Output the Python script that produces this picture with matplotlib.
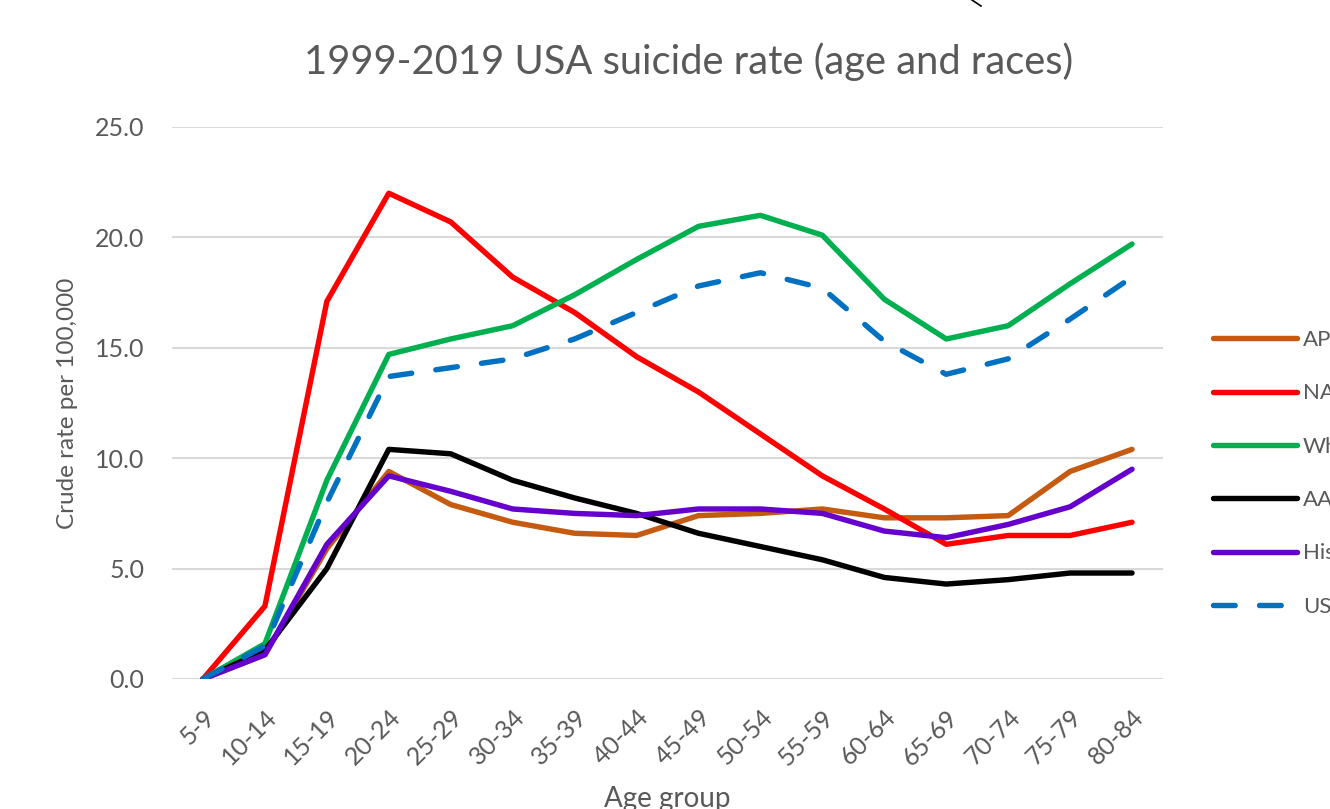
import matplotlib
matplotlib.use("Agg")
import matplotlib.pyplot as plt
from matplotlib.lines import Line2D

age_groups = ["5-9", "10-14", "15-19", "20-24", "25-29", "30-34", "35-39", "40-44",
              "45-49", "50-54", "55-59", "60-64", "65-69", "70-74", "75-79", "80-84"]
series_names = ["API", "NA", "White", "AA", "Hispanic", "USA"]
api = [0.0, 1.1, 5.9, 9.4, 7.9, 7.1, 6.6, 6.5, 7.4, 7.5, 7.7, 7.3, 7.3, 7.4, 9.4, 10.4]
na = [0.0, 3.3, 17.1, 22.0, 20.7, 18.2, 16.6, 14.6, 13.0, 11.1, 9.2, 7.7, 6.1, 6.5, 6.5, 7.1]
white = [0.0, 1.6, 9.0, 14.7, 15.4, 16.0, 17.4, 19.0, 20.5, 21.0, 20.1, 17.2, 15.4, 16.0, 17.9, 19.7]
aa = [0.0, 1.3, 5.0, 10.4, 10.2, 9.0, 8.2, 7.5, 6.6, 6.0, 5.4, 4.6, 4.3, 4.5, 4.8, 4.8]
hispanic = [0.0, 1.1, 6.1, 9.2, 8.5, 7.7, 7.5, 7.4, 7.7, 7.7, 7.5, 6.7, 6.4, 7.0, 7.8, 9.5]
usa = [0.0, 1.5, 8.0, 13.7, 14.1, 14.5, 15.4, 16.6, 17.8, 18.4, 17.7, 15.3, 13.8, 14.5, 16.3, 18.2]
yticks = [0, 5, 10, 15, 20, 25]

colors = ["#C55A11", "#FF0000", "#00B050", "#000000", "#6600CC", "#0070C0"]
plt.rcParams['font.family'] = ["Lato", "DejaVu Sans"]
gray = "#595959"

W, H = 1330, 809
fig = plt.figure(figsize=(W / 100, H / 100), dpi=100)
ax = fig.add_axes([172 / W, (H - 679) / H, (1163 - 172) / W, (679 - 127) / H])

x = list(range(len(age_groups)))
data = [api, na, white, aa, hispanic, usa]
for name, vals, c in zip(series_names, data, colors):
    if name == "USA":
        ax.plot(x, vals, color=c, lw=3.9, ls=(0, (4.0, 4.5)), label=name,
                dash_capstyle="round", zorder=3)
    else:
        ax.plot(x, vals, color=c, lw=3.9, label=name, solid_capstyle="round",
                zorder=3)

ax.set_xlim(-0.5, len(age_groups) - 0.5)
ax.set_ylim(0, 25)
ax.set_yticks(yticks)
ax.set_yticklabels([f"{v:.1f}" for v in yticks], fontsize=18, color=gray)
ax.set_xticks(x)
ax.set_xticklabels(age_groups, rotation=45, ha="right", rotation_mode="anchor",
                   fontsize=18, color=gray)
ax.tick_params(axis="y", length=0, pad=20)
ax.tick_params(axis="x", length=0, pad=19)
for s in ax.spines.values():
    s.set_visible(False)
ax.grid(axis="y", color="#d9d9d9", lw=1.5, zorder=0)
ax.set_axisbelow(True)

ax.set_ylabel("Crude rate per 100,000", fontsize=17.5, color=gray, va="center")
ax.yaxis.set_label_coords((67 - 172) / (1163 - 172), 0.5)
ax.set_xlabel("Age group", fontsize=20, color=gray, va="center")
ax.xaxis.set_label_coords(0.5, (679 - 799) / (679 - 127))

fig.text(689 / W, 1 - 62 / H, "1999-2019 USA suicide rate (age and races)",
         fontsize=28.7, color=gray, ha="center", va="center")

leg = fig.legend(loc="upper left", bbox_to_anchor=(1213 / W, 1 - 330 / H),
                 frameon=False, fontsize=16, handlelength=3.78, handletextpad=0.27,
                 labelspacing=1.5, borderaxespad=0, borderpad=0)
for t in leg.get_texts():
    t.set_color(gray)

fig.add_artist(Line2D([972 / W, 981 / W], [1.0, 1 - 6 / H], color="black", lw=1.2))

fig.savefig("out.png", dpi=100)
